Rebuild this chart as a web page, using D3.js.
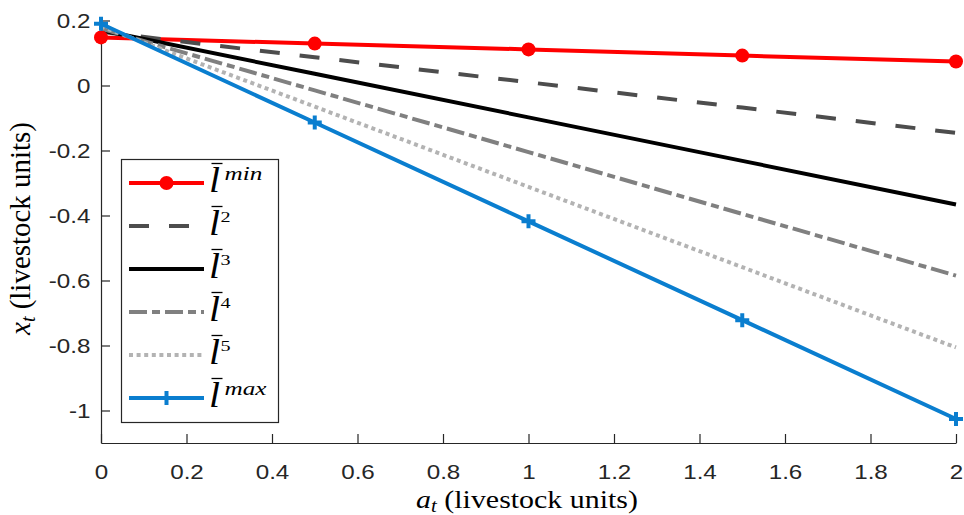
<!DOCTYPE html>
<html>
<head>
<meta charset="utf-8">
<script src="https://cdn.jsdelivr.net/npm/d3@7"></script>
<style>
  body { margin: 0; background: #fff; }
  svg { display: block; }
</style>
</head>
<body>
<svg id="chart" width="964" height="515"></svg>
<script>
// x positions (livestock units)
const xValues = [0, 0.5, 1, 1.5, 2];

// series values
const lMin = [0.148, 0.129, 0.111, 0.092, 0.074];
const l2 = [0.165, 0.087, 0.010, -0.068, -0.146];
const l3 = [0.170, 0.036, -0.098, -0.232, -0.366];
const l4 = [0.175, -0.015, -0.205, -0.395, -0.585];
const l5 = [0.182, -0.065, -0.312, -0.559, -0.806];
const lMax = [0.190, -0.114, -0.418, -0.722, -1.026];

const xTicks = [0, 0.2, 0.4, 0.6, 0.8, 1, 1.2, 1.4, 1.6, 1.8, 2];
const yTicks = [0.2, 0, -0.2, -0.4, -0.6, -0.8, -1];

const legendSups = ["min", "2", "3", "4", "5", "max"];

const SERIF = "Liberation Serif";
const SANS = "Liberation Sans";
const STRETCH = 1.18; // the reference glyphs are a bit wider than tall

const series = [
  { values: lMin, color: "#ff0000", dash: null, marker: "circle", sup: legendSups[0] },
  { values: l2, color: "#4d4d4d", dash: "20,20", marker: null, sup: legendSups[1] },
  { values: l3, color: "#000000", dash: null, marker: null, sup: legendSups[2] },
  { values: l4, color: "#808080", dash: "18,5,8,5", marker: null, sup: legendSups[3] },
  { values: l5, color: "#b3b3b3", dash: "4,3.6", marker: null, sup: legendSups[4] },
  { values: lMax, color: "#0a7ecf", dash: null, marker: "plus", sup: legendSups[5] },
];

const svg = d3.select("#chart");

const x = d3.scaleLinear().domain([0, 2]).range([101, 956]);
const y = d3.scaleLinear().domain([-1.1, 0.2]).range([443, 20.5]);

const fmt = d => d3.format("~g")(d).replace("\u2212", "-");

// Axes (MATLAB style, ticks inward, no box)
const gx = svg.append("g")
  .attr("transform", `translate(0,${y(-1.1)})`)
  .call(d3.axisBottom(x).tickValues(xTicks).tickFormat(fmt)
    .tickSizeInner(-9).tickSizeOuter(0).tickPadding(21));

const gy = svg.append("g")
  .attr("transform", `translate(${x(0)},0)`)
  .call(d3.axisLeft(y).tickValues(yTicks).tickFormat(fmt)
    .tickSizeInner(-9).tickSizeOuter(0).tickPadding(9));

[gx, gy].forEach(g => {
  g.attr("font-family", SANS).attr("font-size", 20.5);
  g.selectAll(".domain, .tick line").attr("stroke", "#262626").attr("stroke-width", 1.2);
  g.selectAll(".tick text")
    .attr("fill", "#262626")
    .attr("transform", `scale(${STRETCH},1)`);
});

// Lines
const line = d3.line()
  .x((d, i) => x(xValues[i]))
  .y(d => y(d));

const plot = svg.append("g");

series.forEach(s => {
  plot.append("path")
    .datum(s.values)
    .attr("d", line)
    .attr("fill", "none")
    .attr("stroke", s.color)
    .attr("stroke-width", 4)
    .attr("stroke-dasharray", s.dash);
});

// Markers
series.forEach(s => {
  if (s.marker === "circle") {
    plot.selectAll(null)
      .data(s.values)
      .join("circle")
      .attr("cx", (d, i) => x(xValues[i]))
      .attr("cy", d => y(d))
      .attr("r", 7)
      .attr("fill", s.color);
  } else if (s.marker === "plus") {
    plot.selectAll(null)
      .data(s.values)
      .join("path")
      .attr("d", (d, i) => {
        const cx = x(xValues[i]), cy = y(d);
        return `M${cx - 7},${cy}H${cx + 7}M${cx},${cy - 7}V${cy + 7}`;
      })
      .attr("stroke", s.color)
      .attr("stroke-width", 4)
      .attr("fill", "none");
  }
});

// Legend
const legend = svg.append("g");
legend.append("rect")
  .attr("x", 121.5).attr("y", 159.5)
  .attr("width", 157).attr("height", 263)
  .attr("fill", "#fff")
  .attr("stroke", "#262626")
  .attr("stroke-width", 1.2);

series.forEach((s, i) => {
  const cy = 183 + i * 43;
  const row = legend.append("g");
  row.append("line")
    .attr("x1", 129).attr("x2", 204)
    .attr("y1", cy).attr("y2", cy)
    .attr("stroke", s.color)
    .attr("stroke-width", 4)
    .attr("stroke-dasharray", s.dash);
  if (s.marker === "circle") {
    row.append("circle").attr("cx", 166.5).attr("cy", cy).attr("r", 7).attr("fill", s.color);
  } else if (s.marker === "plus") {
    row.append("path")
      .attr("d", `M${159.5},${cy}H${173.5}M${166.5},${cy - 7}V${cy + 7}`)
      .attr("stroke", s.color).attr("stroke-width", 4);
  }
  // italic l with a bar
  row.append("text")
    .attr("transform", `translate(209,${cy + 9}) scale(1.1,1)`)
    .attr("font-family", SERIF)
    .attr("font-style", "italic")
    .attr("font-size", 36)
    .text("l");
  row.append("line")
    .attr("x1", 211.5).attr("x2", 222.5)
    .attr("y1", cy - 19.5).attr("y2", cy - 19.5)
    .attr("stroke", "#000").attr("stroke-width", 1.3);
  const isWord = isNaN(+s.sup);
  row.append("text")
    .attr("transform", isWord
      ? `translate(224.5,${cy - 3}) scale(1.4,1)`
      : `translate(220.5,${cy - 4}) scale(1.3,1)`)
    .attr("font-family", SERIF)
    .attr("font-style", isWord ? "italic" : "normal")
    .attr("font-size", isWord ? 18 : 15.5)
    .text(s.sup);
});

// Axis labels, stretched to the reference's length
function fitLabel(t, length) {
  const w = t.node().getComputedTextLength();
  return length / w;
}

const xl = svg.append("text")
  .attr("text-anchor", "middle")
  .attr("font-family", SERIF)
  .attr("font-size", 26);
xl.append("tspan").attr("font-style", "italic").text("a");
xl.append("tspan").attr("font-style", "italic").attr("font-size", 18).attr("dy", 4).text("t");
xl.append("tspan").attr("dy", -4).text(" (livestock units)");
xl.attr("transform", `translate(527,508) scale(${fitLabel(xl, 222)},1)`);

const yl = svg.append("text")
  .attr("text-anchor", "middle")
  .attr("font-family", SERIF)
  .attr("font-size", 26);
yl.append("tspan").attr("font-style", "italic").text("x");
yl.append("tspan").attr("font-style", "italic").attr("font-size", 18).attr("dy", 4).text("t");
yl.append("tspan").attr("dy", -4).text(" (livestock units)");
yl.attr("transform", `translate(30,228.5) rotate(-90) scale(${fitLabel(yl, 213)},1.13)`);
</script>
</body>
</html>
